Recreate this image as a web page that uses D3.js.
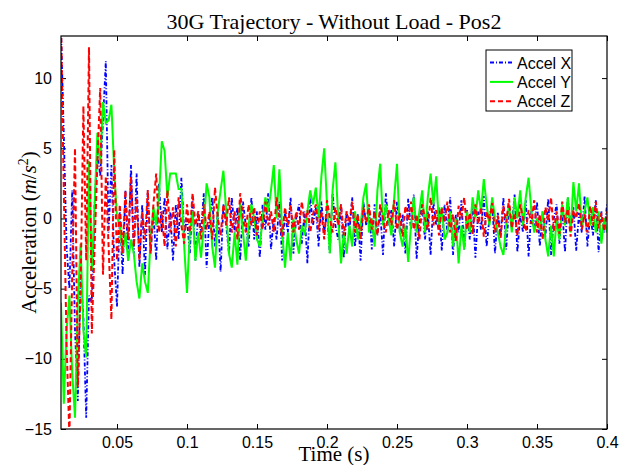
<!DOCTYPE html>
<html>
<head>
<meta charset="utf-8">
<script src="https://cdn.jsdelivr.net/npm/d3@7"></script>
<style>
  body { margin: 0; background: #fff; }
  svg { display: block; }
  .tick text { font-family: "Liberation Sans", Arial, Helvetica, sans-serif; font-size: 16px; fill: #000; }
  .serif { font-family: "Liberation Serif", "Times New Roman", Times, serif; font-size: 21px; fill: #000; }
</style>
</head>
<body>
<div id="chart"></div>
<script>
// sample times: 0.010 s, every 0.002 s up to 0.400 s
const tStart = 0.01;
const tStep = 0.002;

const accelX = [
  13.5, 6, -2, -5, 2, -8, -13, -4, -7, -14.2,
  -5.5, -6, 1, 5, 3, 7, 11.2, -1, 3.8, -3,
  -6.3, 0.5, -4, 2, -3, 3.8, -2.5, 3.2, -3.5, 1,
  -4, 2, -2.5, 0.5, -3, 2.5, -1, 1.5, -2.2, 0.5,
  -3, 1, -1.5, 2.9, -1, 0, -2.5, 1.5, -3, 0.5,
  -1, 1.8, -3.5, 0, 1.5, -2, 0.5, -3.8, 1, -0.5,
  -2.5, 1.5, -1, 0.8, -3, 1.2, -0.5, -2, 1.5, -1.5,
  0.5, -2.8, 1, -0.8, 1.8, -2.2, 0, -1.5, 1.2, -3,
  0.5, -1, 1.5, -2.5, 0, 1, -1.8, 0.5, -3.2, 1.5,
  -0.5, 0.8, -2, 1.2, -1, 0.5, -2.5, 1.8, -0.5, -1.5,
  1, -2.8, 0.5, -1, 1.5, -2, 0.3, -3, 1.2, -0.5,
  0.8, -2.2, 1, -1.2, 0.5, -2.6, 1.8, -0.5, 0.6, -2,
  1.2, -1, 0.3, -2.5, 1.4, -0.8, 1.7, -2.9, 0, 1,
  -1.5, 0.5, -2.6, 1.2, -0.5, 0.8, -2.3, 1, -1, 1.5,
  -2.6, 0.3, -1, 1.3, -2.2, 0.6, -1.5, 1, -2.8, 0.5,
  -0.8, 1.6, -2, 0, 1.2, -2.5, 0.4, -1.2, 1.5, -2.2,
  0.8, -0.6, 1.7, -2.4, 0.2, -1, 1.3, -2.7, 0.6, -0.8,
  1.2, -2, 0.5, -1.3, 1.4, -2.6, 0, 1, -1.8, 0.7,
  -2.4, 1.5, -0.5, 0.8, -2.3, 0.4, -1, 1.6, -2, 0.3,
  -1.2, 1.3, -2.4, 0.5, -1, 1
];

const accelY = [
  -6, -13.2, -8, -5.5, -11, -14.2, -6, -1.8, -8, -9.9,
  4.1, -3.7, 1, 6.1, 3.9, 8.3, 6.8, 7, 8.1, 3.4,
  0.1, -0.5, -2.5, -1, -3, -1.5, -2.5, -4.5, -5.7, -3.2,
  -4.5, -5.3, -1.5, 0.8, -0.5, 1.5, 5.5, 4.8, 1.5, 3.2,
  3.2, 3.2, 2.1, 2.1, -2, -5.3, -1, 0.5, -3, -1,
  -2.8, -0.5, 2.5, 1.5, -2, -3.5, 0.5, 2, 3.4, 0.5,
  -2.5, -3.5, -1, -3.3, 1.2, -1, -3, -0.5, 1, 0,
  -1.5, -2, 0, 1.5, 0.5, 2, 3.8, 0, 3.5, -1,
  -3.5, -1, -3, 0, -1.5, -2.5, -0.5, -1.2, 0.5, 2,
  1, 2.2, 0, 3, 5, 1, -2.5, 2, 4, 0,
  -3.2, -1, -2.5, -0.5, -2, 0.5, -1.5, -0.5, 1.5, 2.5,
  -1, 0, -2, 2, 3.9, -0.5, 1, 0, -1.2, 1.5,
  3.9, -1, -2, -0.5, -3.1, -0.5, 1.5, -1, 0.5, 2,
  -1, 1.5, 3.2, 1, 3, -0.5, 0.8, -1.5, -1, 0.5,
  -2, 0, -3.2, -0.5, -2.2, 0.5, -1, 1.5, 0, 2,
  0.5, 2.8, 1, -0.5, 1.5, 0, -1, -2, -2.6, -0.5,
  1, -1, 1.5, 0, 2, -0.5, 1.5, 2.9, 0.5, -1,
  0, -0.8, 0.5, -1.5, -2.7, -0.5, -2.7, 0, -1.5, 1,
  -0.5, 1.5, -1, 2.6, 0.5, 2.5, -0.5, 0.5, 1.5, -0.5,
  0.8, -1, 0.5, -1.8, 0, -1
];

const accelZ = [
  14, 2, -9, -15.5, -4, 5, -12, -5, 8, -3,
  12.2, -8.2, -2, 4, 9.3, -4, 3, -2, -7.2, 4.9,
  -3, 1, -2.5, 2, -1.5, 3, -2, 1.5, -3, 0.5,
  -1.5, 2, -2.5, 1, 3.2, -1, 0.5, -2, 2, -1,
  0.8, -2, 1.5, -0.5, -1.8, 1, -1, 1.8, -0.5, 0.5,
  -1.5, 1, -0.8, 0.5, -1.5, 2.2, 0, -1.2, 1, -0.5,
  1.5, -1, 0.5, -1.5, 1.8, 0, -1, 1, -0.5, 0.8,
  -1.2, 0.5, -0.8, 1.2, -0.5, 0.5, -1, 1.5, 0, -1.3,
  0.8, -0.5, 1, -1, 0.5, -0.8, 1.2, -0.3, 0.6, -1,
  0.3, 1, -0.8, 0.5, -1.5, 1.3, 0, -1, 0.8, -0.5,
  1, -1.2, 0.5, -0.3, 1.2, -1, 0.3, -1.5, 0.8, -0.3,
  1, -0.8, 0.5, -1.2, 1, 0, -1, 0.6, -0.5, 1.3,
  -0.8, 0.4, -1.3, 0.9, -0.2, 1.2, -0.8, 0.3, -1.5, 1,
  0, -0.8, 1.5, -0.5, 0.6, -1.2, 0.8, -0.3, 1.2, -1,
  0.3, -1.6, 0.9, 0, 1.5, -0.8, 0.4, -1.1, 1, -0.4,
  0.8, -1.3, 0.5, -0.2, 1.1, -1, 0.2, -1.4, 0.9, -0.3,
  1.4, -0.7, 0.4, -1.2, 1, 0, -0.9, 0.6, -0.4, 1.3,
  -1, 0.3, -1.5, 0.8, -0.2, 1.5, -0.9, 0.5, -1.1, 1.2,
  -0.3, 0.7, -1.3, 0.6, 0, 1.1, -0.8, 0.3, -1, 0.9,
  -0.5, 1.2, -0.7, 0.4, -0.9, 0.5
];

const seriesNames = ["Accel X", "Accel Y", "Accel Z"];
const seriesColors = ["#0000ff", "#00ff00", "#ff0000"];
const seriesDash = ["4,2,1,2", null, "5,3"];
const xTicks = [0.05, 0.1, 0.15, 0.2, 0.25, 0.3, 0.35, 0.4];
const yTicks = [-15, -10, -5, 0, 5, 10];

const W = 629, H = 465;
const margin = { top: 36, right: 22, bottom: 36, left: 61 };
const width = W - margin.left - margin.right;
const height = H - margin.top - margin.bottom;

const svg = d3.select("#chart").append("svg")
    .attr("width", W)
    .attr("height", H);

const g = svg.append("g")
    .attr("transform", `translate(${margin.left}, ${margin.top})`);

const x = d3.scaleLinear().domain([0.01, 0.4]).range([0, width]);
const y = d3.scaleLinear().domain([-15, 13]).range([height, 0]);

svg.append("defs").append("clipPath").attr("id", "plotClip")
    .append("rect").attr("width", width).attr("height", height);

const fmt = d => String(d).replace("-", "\u2212");

// bottom axis (ticks inward)
g.append("g")
    .attr("transform", `translate(0, ${height})`)
    .call(d3.axisBottom(x).tickValues(xTicks).tickSizeInner(-5).tickSizeOuter(0).tickPadding(8).tickFormat(fmt))
    .call(a => a.select(".domain").remove());
// top axis ticks
g.append("g")
    .call(d3.axisTop(x).tickValues(xTicks).tickSizeInner(-5).tickSizeOuter(0).tickFormat(""))
    .call(a => a.select(".domain").remove());
// left axis
g.append("g")
    .call(d3.axisLeft(y).tickValues(yTicks).tickSizeInner(-5).tickSizeOuter(0).tickPadding(9).tickFormat(fmt))
    .call(a => a.select(".domain").remove());
// right axis ticks
g.append("g")
    .attr("transform", `translate(${width}, 0)`)
    .call(d3.axisRight(y).tickValues(yTicks).tickSizeInner(-5).tickSizeOuter(0).tickFormat(""))
    .call(a => a.select(".domain").remove());

g.selectAll(".tick line").attr("stroke", "#000");

const line = d3.line()
    .x((d, i) => x(tStart + i * tStep))
    .y(d => y(d));

const plot = g.append("g").attr("clip-path", "url(#plotClip)");
[accelX, accelY, accelZ].forEach((vals, k) => {
    plot.append("path")
        .datum(vals)
        .attr("fill", "none")
        .attr("stroke", seriesColors[k])
        .attr("stroke-width", k === 0 ? 1.8 : 2)
        .attr("stroke-dasharray", seriesDash[k])
        .attr("d", line);
});

// axes box
g.append("rect")
    .attr("width", width)
    .attr("height", height)
    .attr("fill", "none")
    .attr("stroke", "#000")
    .attr("stroke-width", 1.2);

// title and labels
svg.append("text")
    .attr("class", "serif")
    .attr("x", margin.left + width / 2)
    .attr("y", 29)
    .style("font-size", "22px")
    .attr("text-anchor", "middle")
    .text("30G Trajectory - Without Load - Pos2");

svg.append("text")
    .attr("class", "serif")
    .attr("x", margin.left + width / 2)
    .attr("y", 461)
    .attr("text-anchor", "middle")
    .text("Time (s)");

const yl = svg.append("text")
    .attr("class", "serif")
    .attr("transform", `translate(36, ${margin.top + height / 2}) rotate(-90)`)
    .attr("text-anchor", "middle");
yl.append("tspan").text("Acceleration  (");
yl.append("tspan").attr("font-style", "italic").text("m");
yl.append("tspan").text("/");
yl.append("tspan").attr("font-style", "italic").text("s");
yl.append("tspan").attr("dy", -8).attr("font-size", "14px").text("2");
yl.append("tspan").attr("dy", 8).text(")");

// legend
const lg = svg.append("g").attr("transform", "translate(486, 50)");
lg.append("rect")
    .attr("width", 86)
    .attr("height", 61)
    .attr("fill", "#fff")
    .attr("stroke", "#000")
    .attr("stroke-width", 1);
seriesNames.forEach((name, k) => {
    const yy = 12.5 + k * 19.4;
    lg.append("line")
        .attr("x1", 4).attr("x2", 27)
        .attr("y1", yy).attr("y2", yy)
        .attr("stroke", seriesColors[k])
        .attr("stroke-width", 2)
        .attr("stroke-dasharray", seriesDash[k]);
    lg.append("text")
        .attr("x", 31)
        .attr("y", yy + 6)
        .style("font-family", "'Liberation Sans', Arial, Helvetica, sans-serif")
        .style("font-size", "16px")
        .text(name);
});
</script>
</body>
</html>
